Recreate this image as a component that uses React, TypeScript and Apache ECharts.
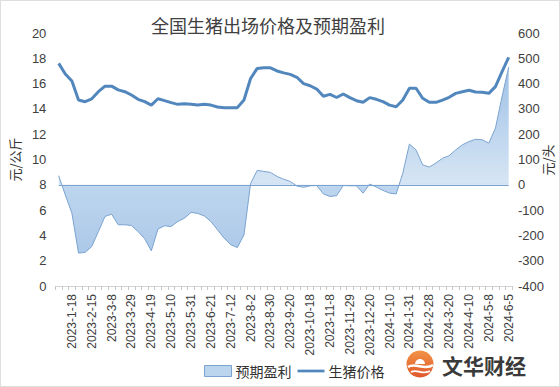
import React, { useEffect, useRef } from 'react';
import * as echarts from 'echarts';

const categories = [
  '2023-1-4', '2023-1-11', '2023-1-18', '2023-2-1', '2023-2-8', '2023-2-15',
  '2023-2-22', '2023-3-1', '2023-3-8', '2023-3-15', '2023-3-22', '2023-3-29',
  '2023-4-5', '2023-4-12', '2023-4-19', '2023-4-26', '2023-5-3', '2023-5-10',
  '2023-5-17', '2023-5-24', '2023-5-31', '2023-6-7', '2023-6-14', '2023-6-21',
  '2023-6-28', '2023-7-5', '2023-7-12', '2023-7-19', '2023-7-26', '2023-8-2',
  '2023-8-16', '2023-8-23', '2023-8-30', '2023-9-6', '2023-9-13', '2023-9-20',
  '2023-9-27', '2023-10-11', '2023-10-18', '2023-10-25', '2023-11-1', '2023-11-8',
  '2023-11-15', '2023-11-22', '2023-11-29', '2023-12-6', '2023-12-13', '2023-12-20',
  '2023-12-27', '2024-1-3', '2024-1-10', '2024-1-17', '2024-1-24', '2024-1-31',
  '2024-2-7', '2024-2-21', '2024-2-28', '2024-3-6', '2024-3-13', '2024-3-20',
  '2024-3-27', '2024-4-3', '2024-4-10', '2024-4-17', '2024-4-24', '2024-5-8',
  '2024-5-15', '2024-5-22', '2024-6-5',
];

// 生猪价格 (元/公斤)
const price = [
  17.6, 16.76, 16.2, 14.7, 14.57, 14.8, 15.36, 15.8, 15.8, 15.5, 15.36, 15.1,
  14.76, 14.57, 14.3, 14.8, 14.65, 14.5, 14.36, 14.4, 14.37, 14.3, 14.36, 14.3,
  14.15, 14.1, 14.1, 14.1, 14.7, 16.4, 17.2, 17.25, 17.25, 17.0, 16.85, 16.73,
  16.5, 16.0, 15.83, 15.57, 15.0, 15.15, 14.9, 15.18, 14.89, 14.65, 14.52, 14.89,
  14.76, 14.57, 14.3, 14.17, 14.7, 15.63, 15.63, 14.84, 14.52, 14.52, 14.7, 14.92,
  15.23, 15.36, 15.47, 15.34, 15.31, 15.23, 15.76, 16.94, 18.08,
];

// 预期盈利 (元/头)
const profit = [
  36, -40, -112, -270, -267, -244, -185, -125, -116, -158, -158, -161,
  -185, -213, -261, -175, -162, -165, -145, -132, -109, -113, -123, -145,
  -178, -211, -237, -248, -198, 5, 57, 53, 49, 33, 22, 13,
  -5, -10, -4, -3, -36, -46, -43, -3, -4, -4, -33, 3,
  -9, -22, -33, -36, 46, 161, 138, 79, 70, 86, 105, 115,
  138, 158, 171, 180, 178, 165, 224, 349, 465,
];

const FONT = '"Liberation Sans", "Noto Sans CJK SC", sans-serif';
const CJK = '"Noto Sans CJK SC", "Liberation Sans", sans-serif';

export default function App() {
  const ref = useRef<HTMLDivElement>(null);

  useEffect(() => {
    document.body.style.margin = '0';
    const chart = echarts.init(ref.current!, undefined, { renderer: 'svg' });
    chart.setOption({
      animation: false,
      backgroundColor: '#ffffff',
      title: {
        text: '全国生猪出场价格及预期盈利',
        left: 146,
        top: 11,
        textStyle: { fontFamily: CJK, fontSize: 18, fontWeight: 'normal', color: '#404040' },
      },
      legend: {
        left: 199,
        top: 359,
        itemWidth: 27,
        itemHeight: 11,
        itemGap: 6,
        textStyle: { fontFamily: CJK, fontSize: 14, color: '#303030', padding: [0, 0, 0, -1] },
        data: [
          {
            name: '预期盈利',
            icon: 'rect',
            itemStyle: { color: '#bcd5ee', borderColor: '#7aa3d0', borderWidth: 1 },
          },
          {
            name: '生猪价格',
            icon: 'path://M0,0 H30 V3 H0 Z',
            itemStyle: { color: '#5287bd', borderWidth: 0 },
          },
        ],
      },
      grid: { left: 48, right: 48, top: 33, bottom: 101 },
      xAxis: {
        type: 'category',
        data: categories,
        boundaryGap: true,
        axisLine: { lineStyle: { color: '#d4d4d4', width: 1 } },
        axisTick: { show: true, interval: 0, length: 4, lineStyle: { color: '#c8c8c8' } },
        axisLabel: {
          interval: (index: number) => index % 3 === 2,
          rotate: 90,
          fontFamily: FONT,
          fontSize: 12,
          color: '#404040',
          margin: 8,
        },
        splitLine: { show: false },
      },
      yAxis: [
        {
          type: 'value',
          min: 0,
          max: 20,
          interval: 2,
          name: '元/公斤',
          nameLocation: 'middle',
          nameRotate: 90,
          nameGap: 30,
          nameTextStyle: { fontFamily: CJK, fontSize: 13, color: '#303030' },
          axisLine: { show: false },
          axisTick: { show: false },
          splitLine: { show: false },
          axisLabel: { fontFamily: FONT, fontSize: 13, color: '#404040', margin: 9 },
        },
        {
          type: 'value',
          min: -400,
          max: 600,
          interval: 100,
          position: 'right',
          axisLine: { show: false },
          axisTick: { show: false },
          splitLine: { show: false },
          axisLabel: { fontFamily: FONT, fontSize: 13, color: '#404040', margin: 6 },
        },
      ],
      series: [
        {
          name: '预期盈利',
          type: 'line',
          yAxisIndex: 1,
          data: profit,
          symbol: 'none',
          smooth: false,
          lineStyle: { color: '#7aa3d0', width: 1 },
          itemStyle: { color: '#bcd5ee' },
          areaStyle: {
            origin: 0,
            color: {
              type: 'linear',
              x: 0,
              y: 0,
              x2: 0,
              y2: 1,
              colorStops: [
                { offset: 0, color: '#9fc1e6' },
                { offset: 0.62, color: '#d6e5f4' },
                { offset: 0.645, color: '#bdd5ee' },
                { offset: 1, color: '#adc9e9' },
              ],
            },
            opacity: 1,
          },
          markLine: {
            silent: true,
            symbol: 'none',
            label: { show: false },
            lineStyle: { color: '#7aa3d0', width: 1, type: 'solid' },
            data: [[{ coord: [categories[0], 0] }, { coord: [categories[categories.length - 1], 0] }]],
          },
          z: 1,
        },
        {
          name: '生猪价格',
          type: 'line',
          yAxisIndex: 0,
          data: price,
          symbol: 'none',
          smooth: false,
          lineStyle: { color: '#5287bd', width: 3 },
          itemStyle: { color: '#5287bd' },
          z: 3,
        },
      ],
      graphic: [
        {
          type: 'text',
          x: 547,
          y: 160,
          rotation: Math.PI / 2,
          style: {
            text: '元/头',
            font: '13px "Noto Sans CJK SC", sans-serif',
            fill: '#303030',
            align: 'center',
            verticalAlign: 'middle',
          },
        },
        {
          type: 'circle',
          shape: { cx: 420, cy: 364, r: 13.5 },
          style: {
            fill: {
              type: 'linear', x: 0, y: 0, x2: 0, y2: 1,
              colorStops: [
                { offset: 0, color: '#f29346' },
                { offset: 1, color: '#e0572c' },
              ],
            },
          },
        },
        {
          type: 'sector',
          shape: { cx: 420, cy: 364, r: 5, r0: 0, startAngle: Math.PI, endAngle: Math.PI * 2 },
          style: { fill: '#ffffff' },
        },
        {
          type: 'bezierCurve',
          shape: { x1: 408, y1: 367, cpx1: 415, cpy1: 362, cpx2: 425, cpy2: 371, x2: 433, y2: 365 },
          style: { stroke: '#ffffff', lineWidth: 2.5, fill: 'none' },
        },
        {
          type: 'bezierCurve',
          shape: { x1: 411, y1: 372, cpx1: 417, cpy1: 369, cpx2: 424, cpy2: 375, x2: 430, y2: 371 },
          style: { stroke: '#ffffff', lineWidth: 1.8, fill: 'none' },
        },
        {
          type: 'text',
          x: 442,
          y: 365,
          style: {
            text: '文华财经',
            font: 'bold 21px "Noto Sans CJK SC", sans-serif',
            fill: '#3a3a3a',
            verticalAlign: 'middle',
          },
        },
      ],
    });
    return () => chart.dispose();
  }, []);

  return (
    <div style={{ position: 'relative', width: 560, height: 387 }}>
      <div ref={ref} style={{ width: 560, height: 387 }} />
      <div
        style={{
          position: 'absolute',
          left: 0,
          top: 0,
          width: 560,
          height: 387,
          boxSizing: 'border-box',
          border: '1px solid #dedede',
          pointerEvents: 'none',
        }}
      />
    </div>
  );
}
